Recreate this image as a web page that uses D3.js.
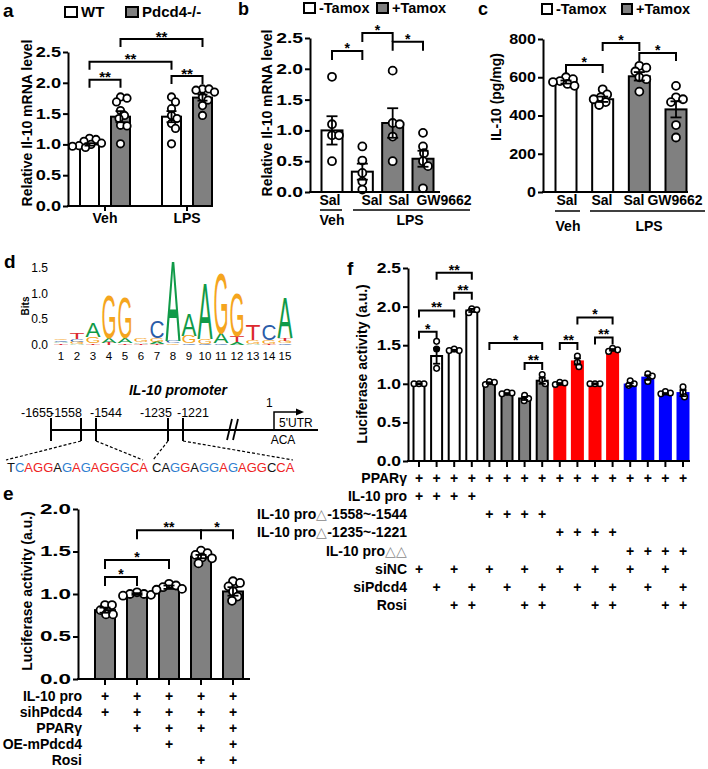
<!DOCTYPE html>
<html><head><meta charset="utf-8">
<script src="https://cdn.jsdelivr.net/npm/d3@7"></script>
<style>
body{margin:0;background:#fff}
svg{display:block}
text{font-family:"Liberation Sans",Arial,Helvetica,sans-serif}
</style>
</head><body>
<svg id="fig" width="708" height="769"></svg>
<script>
// ===================== DATA =====================
// Panel a
const aGroups = ["Veh", "LPS"];
const aSeries = ["WT", "Pdcd4-/-"];
const aMeans = [[1.00, 1.45], [1.45, 1.76]];
const aSEM = [[0.02, 0.09], [0.09, 0.05]];
const aPoints = [
  [[1.10, 1.08, 1.05, 1.02, 1.00, 0.98, 0.97, 0.95], [1.77, 1.75, 1.69, 1.55, 1.47, 1.42, 1.31, 1.30, 1.01]],
  [[1.77, 1.69, 1.58, 1.47, 1.42, 1.34, 1.26, 1.01], [1.90, 1.90, 1.88, 1.85, 1.77, 1.72, 1.63, 1.47]]
];
const aTicks = [0, 0.5, 1.0, 1.5, 2.0, 2.5];
// [barA, barB, level, label]  (bars: 0 Veh-WT, 1 Veh-Pdcd4, 2 LPS-WT, 3 LPS-Pdcd4)
const aSig = [[0, 1, 2.05, "**"], [0, 2, 2.34, "**"], [1, 3, 2.71, "**"], [2, 3, 2.11, "**"]];

// Panel b
const bSeries = ["-Tamox", "+Tamox"];
const bBarSeries = ["-Tamox", "-Tamox", "+Tamox", "+Tamox"];
const bLabels = ["Sal", "Sal", "Sal", "GW9662"];
const bMeans = [1.00, 0.33, 1.12, 0.54];
const bSEM = [0.23, 0.13, 0.24, 0.13];
const bPoints = [[1.87, 1.10, 0.92, 0.92, 0.50], [0.74, 0.51, 0.31, 0.17, 0.04],
                 [1.97, 1.12, 1.10, 0.90, 0.50], [0.96, 0.74, 0.63, 0.50, 0.42, 0.06]];
const bTicks = [0, 0.5, 1.0, 1.5, 2.0, 2.5];
const bSig = [[0, 1, 2.29, "*"], [1, 2, 2.58, "*"], [2, 3, 2.44, "*"]];

// Panel c
const cLabels = ["Sal", "Sal", "Sal", "GW9662"];
const cBarSeries = ["-Tamox", "-Tamox", "+Tamox", "+Tamox"];
const cMeans = [575, 485, 605, 432];
const cSEM = [8, 14, 22, 42];
const cPoints = [[600, 590, 580, 575, 565, 555], [537, 510, 495, 485, 470, 455],
                 [660, 650, 630, 600, 590, 525], [555, 495, 485, 470, 350, 285]];
const cTicks = [0, 200, 400, 600, 800];
const cSig = [[0, 1, 664, "*"], [1, 2, 779, "*"], [2, 3, 727, "*"]];
const treatGroups = ["Veh", "LPS"];

// Panel d : sequence logo (bits, stacked bottom -> top) and promoter
const logoPos = d3.range(1, 16);
const logoStacks = [
  [["T", 0.03], ["A", 0.03], ["C", 0.03], ["G", 0.03]],
  [["A", 0.02], ["G", 0.04], ["C", 0.06], ["T", 0.12]],
  [["T", 0.03], ["G", 0.13], ["A", 0.28]],
  [["T", 0.04], ["A", 0.10], ["G", 0.85]],
  [["T", 0.03], ["A", 0.10], ["G", 0.80]],
  [["T", 0.02], ["A", 0.03], ["G", 0.08]],
  [["T", 0.02], ["A", 0.04], ["G", 0.08], ["C", 0.33]],
  [["G", 0.03], ["C", 0.04], ["A", 1.60]],
  [["C", 0.03], ["G", 0.15], ["A", 0.45]],
  [["C", 0.02], ["G", 0.10], ["A", 1.12]],
  [["C", 0.03], ["A", 0.20], ["G", 1.20]],
  [["A", 0.05], ["T", 0.13], ["G", 0.85]],
  [["A", 0.02], ["G", 0.08], ["T", 0.30]],
  [["T", 0.02], ["G", 0.08], ["C", 0.30]],
  [["C", 0.03], ["G", 0.04], ["T", 0.06], ["A", 0.80]]
];
const logoTicks = [0, 0.5, 1.0, 1.5];
const promoterSites = [-1655, -1558, -1544, -1235, -1221];
const seq1 = "TCAGGAGAGAGGGCA", seq1Col = "kbrrrkbrbrrrbrr";
const seq2 = "CAGGAGGAGAGGCCA", seq2Col = "kkbrkbbrbrrrkrr";

// Panel e
const eMeans = [0.81, 1.00, 1.08, 1.44, 1.03];
const eSEM = [0.03, 0.01, 0.02, 0.02, 0.05];
const ePoints = [[0.87, 0.87, 0.81, 0.76, 0.76], [1.02, 1.00, 1.00, 0.99, 0.98],
                 [1.12, 1.10, 1.08, 1.06, 1.05], [1.51, 1.48, 1.46, 1.43, 1.42, 1.36],
                 [1.15, 1.13, 1.09, 1.03, 0.97, 0.92]];
const eTicks = [0, 0.5, 1.0, 1.5, 2.0];
const eSig = [[0, 1, 1.20, "*"], [0, 2, 1.40, "*"], [1, 3, 1.75, "**"], [3, 4, 1.75, "*"]];
const eRows = ["IL-10 pro", "sihPdcd4", "PPARγ", "OE-mPdcd4", "Rosi"];
const eMatrix = [[1,1,1,1,1],[1,1,1,1,1],[0,1,1,1,1],[0,0,1,0,1],[0,0,0,1,1]];

// Panel f
const fConstruct = ["wt","wt","wt","wt","d1","d1","d1","d1","d2","d2","d2","d2","dd","dd","dd","dd"];
const fMeans = [1.00, 1.36, 1.43, 1.95, 1.01, 0.87, 0.81, 1.04, 1.00, 1.29, 1.00, 1.44, 0.99, 1.08, 0.87, 0.88];
const fSEM = [0.005, 0.10, 0.01, 0.02, 0.01, 0.01, 0.02, 0.04, 0.01, 0.04, 0.005, 0.01, 0.02, 0.03, 0.01, 0.04];
const fPoints = [[1.00,1.00,1.00],[1.55,1.45,1.20],[1.45,1.43,1.43],[1.97,1.96,1.92],
                 [1.03,1.02,0.99],[0.89,0.88,0.87],[0.85,0.81,0.78],[1.12,1.05,1.00],
                 [1.02,1.01,0.99],[1.36,1.28,1.22],[1.00,1.00,1.00],[1.46,1.44,1.42],
                 [1.04,1.00,0.98],[1.13,1.10,1.03],[0.90,0.88,0.87],[0.96,0.89,0.83]];
const fFilled = [[1, 1]];   // [bar, point] drawn as a filled dot
const fTicks = [0, 0.5, 1.0, 1.5, 2.0, 2.5];
const fSig = [[0,1,1.675,"*"],[0,2,1.95,"**"],[1,3,2.44,"**"],[2,3,2.18,"**"],
              [4,7,1.53,"*"],[6,7,1.27,"**"],[8,9,1.53,"**"],[9,11,1.86,"*"],[10,11,1.60,"**"]];
const fRows = ["PPARγ", "IL-10 pro", "IL-10 pro△-1558~-1544", "IL-10 pro△-1235~-1221",
               "IL-10 pro△△", "siNC", "siPdcd4", "Rosi"];
const fMatrix = [
  [1,1,1,1,1,1,1,1,1,1,1,1,1,1,1,1],
  [1,1,1,1,0,0,0,0,0,0,0,0,0,0,0,0],
  [0,0,0,0,1,1,1,1,0,0,0,0,0,0,0,0],
  [0,0,0,0,0,0,0,0,1,1,1,1,0,0,0,0],
  [0,0,0,0,0,0,0,0,0,0,0,0,1,1,1,1],
  [1,0,1,0,1,0,1,0,1,0,1,0,1,0,1,0],
  [0,1,0,1,0,1,0,1,0,1,0,1,0,1,0,1],
  [0,0,1,1,0,0,1,1,0,0,1,1,0,0,1,1]
];

// ===================== STYLE =====================
const GRAY = "#808080";
const seriesFill = {"WT": "#fff", "Pdcd4-/-": GRAY, "-Tamox": "#fff", "+Tamox": GRAY};
const constructFill = {wt: "#fff", d1: GRAY, d2: "#ff0000", dd: "#0000ff"};
const constructStroke = {wt: "#000", d1: "#000", d2: "#ff0000", dd: "#0000ff"};
const logoColor = {A: "#109a48", C: "#2a5ca8", G: "#f5a51e", T: "#dc2a2e"};
const logoAdv = {A: 0.667, C: 0.722, G: 0.778, T: 0.611};
const seqColor = {k: "#111", r: "#ee2222", b: "#2f7fd0"};

const svg = d3.select("#fig");

// ===================== HELPERS =====================
function yAxis(g, y, ticks, fmt, x, sx) {
  const ax = d3.axisLeft(y).tickValues(ticks).tickFormat(fmt).tickSize(5).tickSizeOuter(0).tickPadding(2);
  const gg = g.append("g").attr("transform", `translate(${x},0)`).call(ax);
  gg.selectAll("path,line").attr("stroke", "#000").attr("stroke-width", 2);
  gg.selectAll("text").attr("font-size", 14).attr("font-weight", "bold").attr("fill", "#000")
    .style("font-family", '"Liberation Sans",Arial,sans-serif')
    .attr("x", -7 / sx).attr("transform", `scale(${sx},1)`);
  return gg;
}
function hline(g, x1, x2, y, w) {
  g.append("line").attr("x1", x1).attr("x2", x2).attr("y1", y).attr("y2", y)
    .attr("stroke", "#000").attr("stroke-width", w || 2);
}
function swarm(vals, y, dmin) {
  const placed = [], res = new Array(vals.length);
  vals.forEach((v, i) => {
    const py = y(v);
    let dx = 0;
    for (let k = 0; k < 600; k++) {
      const cand = (k % 2 ? 1 : -1) * Math.ceil(k / 2) * 0.5;
      const ok = placed.every(p => (cand - p[0]) ** 2 + (py - p[1]) ** 2 >= dmin * dmin);
      if (ok) { dx = cand; break; }
    }
    placed.push([dx, py]);
    res[i] = dx;
  });
  return res;
}
function barPanel(g, o) {
  o.means.forEach((m, i) => {
    g.append("rect").attr("x", o.cx[i] - o.bw / 2).attr("y", o.y(m))
      .attr("width", o.bw).attr("height", o.y(0) - o.y(m))
      .attr("fill", o.fill[i]).attr("stroke", o.stroke[i]).attr("stroke-width", o.sw || 2);
  });
  o.points.forEach((pts, i) => {
    const dxs = swarm(pts, o.y, o.r * 1.7);
    pts.forEach((v, j) => {
      const filled = (o.filled || []).some(f => f[0] === i && f[1] === j);
      g.append("circle").attr("cx", o.cx[i] + dxs[j]).attr("cy", o.y(v)).attr("r", o.r)
        .attr("fill", filled ? "#000" : "#fff").attr("stroke", "#000").attr("stroke-width", o.psw || 1.8);
    });
  });
  o.means.forEach((m, i) => {
    const x = o.cx[i], y1 = o.y(m + o.sem[i]), y2 = o.y(m - o.sem[i]);
    g.append("line").attr("x1", x).attr("x2", x).attr("y1", y1).attr("y2", y2).attr("stroke", "#000").attr("stroke-width", 1.8);
    [y1, y2].forEach(yy => g.append("line").attr("x1", x - o.cap / 2).attr("x2", x + o.cap / 2)
      .attr("y1", yy).attr("y2", yy).attr("stroke", "#000").attr("stroke-width", 1.8));
  });
  o.sig.forEach(([a, b, lvl, lab]) => {
    const x1 = o.cx[a], x2 = o.cx[b], yt = o.y(lvl);
    g.append("path").attr("d", `M${x1},${yt + o.leg}V${yt}H${x2}V${yt + o.leg}`)
      .attr("fill", "none").attr("stroke", "#000").attr("stroke-width", 2);
    g.append("text").attr("x", (x1 + x2) / 2).attr("y", yt - 6 + 0.57 * o.sfs)
      .attr("text-anchor", "middle").attr("font-size", o.sfs).attr("font-weight", "bold").text(lab);
  });
}
function text(g, x, y, s, fs, opts) {
  opts = opts || {};
  return g.append("text").attr("x", x).attr("y", y).attr("font-size", fs)
    .attr("font-weight", opts.w || "bold").attr("text-anchor", opts.a || "start")
    .attr("font-style", opts.i || "normal").attr("fill", opts.c || "#000").text(s);
}
function vtitle(g, x, y, s, fs) {
  g.append("text").attr("transform", `translate(${x},${y}) rotate(-90)`).attr("text-anchor", "middle")
    .attr("font-size", fs).attr("font-weight", "bold").text(s);
}
function legendItem(g, x, y, w, h, fill, label, fs) {
  g.append("rect").attr("x", x).attr("y", y).attr("width", w).attr("height", h)
    .attr("fill", fill).attr("stroke", "#000").attr("stroke-width", 2);
  text(g, x + w + 4, y + h, label, fs);
}

// ===================== PANEL A =====================
{
  const g = svg.append("g");
  const y = d3.scaleLinear().domain([0, 2.5]).range([206, 52]);
  const x0 = d3.scalePoint().domain(aGroups).range([105, 187]);
  const x1 = d3.scalePoint().domain(aSeries).range([-15.5, 15.5]);
  const cx = [], fill = [], means = [], sem = [], pts = [];
  aGroups.forEach((gr, gi) => aSeries.forEach((s, si) => {
    cx.push(x0(gr) + x1(s)); fill.push(seriesFill[s]);
    means.push(aMeans[gi][si]); sem.push(aSEM[gi][si]); pts.push(aPoints[gi][si]);
  }));
  barPanel(g, {cx, y, means, sem, points: pts, fill, stroke: cx.map(() => "#000"), bw: 19, r: 3.7, cap: 10, sig: aSig, leg: 8, sfs: 15});
  yAxis(g, y, aTicks, d3.format(".1f"), 68, 1.3);
  hline(g, 67, 213, 206);
  aGroups.forEach(gr => {
    g.append("line").attr("x1", x0(gr)).attr("x2", x0(gr)).attr("y1", 206).attr("y2", 211).attr("stroke", "#000").attr("stroke-width", 2);
    text(g, x0(gr), 223, gr, 14, {a: "middle"});
  });
  vtitle(g, 32, 123, "Relative Il-10 mRNA level", 14);
  legendItem(g, 65, 7, 12, 10, seriesFill[aSeries[0]], aSeries[0], 15);
  legendItem(g, 126, 7, 12, 10, seriesFill[aSeries[1]], aSeries[1], 15);
  text(g, 3, 17, "a", 19);
}

// ===================== PANEL B =====================
{
  const g = svg.append("g");
  const y = d3.scaleLinear().domain([0, 2.5]).range([192, 38]);
  const x = d3.scalePoint().domain(d3.range(4)).range([332, 423]);
  const cx = d3.range(4).map(i => x(i));
  barPanel(g, {cx, y, means: bMeans, sem: bSEM, points: bPoints, fill: bBarSeries.map(s => seriesFill[s]),
    stroke: cx.map(() => "#000"), bw: 21, r: 4, cap: 11, sig: bSig, leg: 9, sfs: 14});
  yAxis(g, y, bTicks, d3.format(".1f"), 310, 1.38);
  hline(g, 309, 440, 192);
  const lx = [330, 372, 399, 444];
  bLabels.forEach((s, i) => text(g, lx[i], 205, s, 14, {a: "middle"}));
  hline(g, 320, 342, 210, 1.5);
  hline(g, 353, 470, 210, 1.5);
  text(g, 332, 225, treatGroups[0], 14, {a: "middle"});
  text(g, 410, 225, treatGroups[1], 14, {a: "middle"});
  vtitle(g, 272, 113, "Relative Il-10 mRNA level", 14);
  legendItem(g, 304, 3, 11, 10, seriesFill[bSeries[0]], bSeries[0], 14.5);
  legendItem(g, 377, 3, 11, 10, seriesFill[bSeries[1]], bSeries[1], 14.5);
  text(g, 238, 15, "b", 18);
}

// ===================== PANEL C =====================
{
  const g = svg.append("g");
  const y = d3.scaleLinear().domain([0, 800]).range([192, 39]);
  const x = d3.scalePoint().domain(d3.range(4)).range([566, 676]);
  const cx = d3.range(4).map(i => x(i));
  barPanel(g, {cx, y, means: cMeans, sem: cSEM, points: cPoints, fill: cBarSeries.map(s => seriesFill[s]),
    stroke: cx.map(() => "#000"), bw: 21, r: 4, cap: 11, sig: cSig, leg: 8, sfs: 14});
  yAxis(g, y, cTicks, d3.format("d"), 543, 1.15);
  hline(g, 542, 688, 192);
  const lx = [567, 602, 634, 675];
  cLabels.forEach((s, i) => text(g, lx[i], 205, s, 14, {a: "middle"}));
  hline(g, 555, 580, 211, 1.5);
  hline(g, 590, 705, 211, 1.5);
  text(g, 568, 231, treatGroups[0], 14, {a: "middle"});
  text(g, 649, 231, treatGroups[1], 14, {a: "middle"});
  vtitle(g, 501, 97, "IL-10 (pg/mg)", 14);
  legendItem(g, 542, 4, 10, 10, seriesFill["-Tamox"], "-Tamox", 14.5);
  legendItem(g, 622, 4, 10, 10, seriesFill["+Tamox"], "+Tamox", 14.5);
  text(g, 478, 15, "c", 18);
}

// ===================== PANEL D =====================
{
  const g = svg.append("g");
  const ly = d3.scaleLinear().domain([0, 1.5]).range([345, 268]);
  const lx = d3.scalePoint().domain(logoPos).range([61, 285]);
  const LW = 15;
  logoStacks.forEach((stack, i) => {
    let cum = 0;
    stack.forEach(([L, h]) => {
      const yb = ly(cum), yt = ly(cum + h); cum += h;
      const sx = LW / (logoAdv[L] * 100), sy = (yb - yt) / (0.716 * 100);
      g.append("text").attr("transform", `translate(${lx(logoPos[i])},${yb}) scale(${sx},${sy})`)
        .attr("text-anchor", "middle").attr("font-size", 100).attr("font-weight", "normal")
        .attr("fill", logoColor[L]).text(L);
    });
    text(g, lx(logoPos[i]), 360, String(logoPos[i]), 11.5, {a: "middle", w: "normal"});
  });
  logoTicks.forEach(t => text(g, 48, ly(t) + 4, d3.format(".1f")(t), 12, {a: "end", w: "normal"}));
  vtitle(g, 29, 306, "Bits", 10);
  text(g, 4, 268, "d", 19);

  const px = d3.scaleLinear().domain([-1655, -1558, -1544, -1235, -1221, 1]).range([51, 81, 96, 168, 183, 274]);
  text(g, 178, 395, "IL-10 promoter", 14, {a: "middle", i: "italic"});
  hline(g, px(-1655), 318, 430, 2);
  const labOff = [-14, -15, 10, -12, 10];
  promoterSites.forEach((s, i) => {
    g.append("line").attr("x1", px(s)).attr("x2", px(s)).attr("y1", 418).attr("y2", 441)
      .attr("stroke", "#000").attr("stroke-width", 2);
    text(g, px(s) + labOff[i], 417, String(s), 12.5, {a: "middle", w: "normal"});
  });
  [227, 233].forEach(bx => g.append("line").attr("x1", bx).attr("x2", bx + 5).attr("y1", 440).attr("y2", 419)
    .attr("stroke", "#000").attr("stroke-width", 1.8));
  const tx = px(1);
  g.append("path").attr("d", `M${tx},430V412H298`).attr("fill", "none").attr("stroke", "#000").attr("stroke-width", 1.5);
  g.append("path").attr("d", `M304,412L296,408.5L296,415.5Z`).attr("fill", "#000");
  text(g, tx - 8, 407, "1", 12, {w: "normal"});
  text(g, tx + 5, 427, "5'UTR", 12, {w: "normal"});
  text(g, tx + 9, 444, "ACA", 12, {a: "middle", w: "normal"});
  const dash = [[px(-1558), 441, 6, 460], [px(-1544), 441, 143, 460], [px(-1235), 441, 153, 460], [px(-1221), 441, 293, 460]];
  dash.forEach(d => g.append("line").attr("x1", d[0]).attr("y1", d[1]).attr("x2", d[2]).attr("y2", d[3])
    .attr("stroke", "#000").attr("stroke-width", 1.2).attr("stroke-dasharray", "3,2"));
  [[seq1, seq1Col, 7], [seq2, seq2Col, 152]].forEach(([s, c, x0]) => {
    const t = g.append("text").attr("x", x0).attr("y", 472).attr("font-size", 13);
    s.split("").forEach((ch, i) => t.append("tspan").attr("fill", seqColor[c[i]]).text(ch));
  });
}

// ===================== PANEL E =====================
{
  const g = svg.append("g");
  const y = d3.scaleLinear().domain([0, 2]).range([679, 509]);
  const x = d3.scalePoint().domain(d3.range(5)).range([105, 233]);
  const cx = d3.range(5).map(i => x(i));
  barPanel(g, {cx, y, means: eMeans, sem: eSEM, points: ePoints, fill: cx.map(() => GRAY),
    stroke: cx.map(() => "#000"), bw: 20, r: 4, cap: 11, sig: eSig, leg: 9, sfs: 14});
  yAxis(g, y, eTicks, d3.format(".1f"), 78, 1.6);
  hline(g, 77, 250, 679);
  cx.forEach(c => g.append("line").attr("x1", c).attr("x2", c).attr("y1", 679).attr("y2", 685).attr("stroke", "#000").attr("stroke-width", 2));
  vtitle(g, 32, 591, "Luciferase activity (a.u.)", 14);
  const ry = d3.scalePoint().domain(d3.range(eRows.length)).range([701, 765]);
  eRows.forEach((r, ri) => {
    text(g, 82, ry(ri), r, 14, {a: "end"});
    eMatrix[ri].forEach((v, ci) => { if (v) text(g, cx[ci], ry(ri), "+", 14, {a: "middle"}); });
  });
  text(g, 3, 500, "e", 19);
}

// ===================== PANEL F =====================
{
  const g = svg.append("g");
  const y = d3.scaleLinear().domain([0, 2.5]).range([461, 268]);
  const x = d3.scalePoint().domain(d3.range(16)).range([419, 683]);
  const cx = d3.range(16).map(i => x(i));
  barPanel(g, {cx, y, means: fMeans, sem: fSEM, points: fPoints, filled: fFilled, fill: fConstruct.map(c => constructFill[c]),
    stroke: fConstruct.map(c => constructStroke[c]), bw: 11, r: 2.8, psw: 1.5, cap: 7, sig: fSig, leg: 7, sfs: 14});
  yAxis(g, y, fTicks, d3.format(".1f"), 408, 1.25);
  hline(g, 407, 690, 461);
  cx.forEach(c => g.append("line").attr("x1", c).attr("x2", c).attr("y1", 461).attr("y2", 467).attr("stroke", "#000").attr("stroke-width", 2));
  vtitle(g, 367, 364, "Luciferase activity (a.u.)", 14);
  const ry = d3.scalePoint().domain(d3.range(fRows.length)).range([483, 610]);
  fRows.forEach((r, ri) => {
    const t = g.append("text").attr("x", 407).attr("y", ry(ri)).attr("text-anchor", "end")
      .attr("font-size", 14).attr("font-weight", "bold");
    r.split(/(△)/).forEach(part => {
      if (!part) return;
      const sp = t.append("tspan").text(part);
      if (part === "△") sp.attr("font-weight", "normal").attr("fill", "#888");
    });
    fMatrix[ri].forEach((v, ci) => { if (v) text(g, cx[ci], ry(ri), "+", 14, {a: "middle"}); });
  });
  text(g, 347, 275, "f", 19);
}
</script>
</body></html>
